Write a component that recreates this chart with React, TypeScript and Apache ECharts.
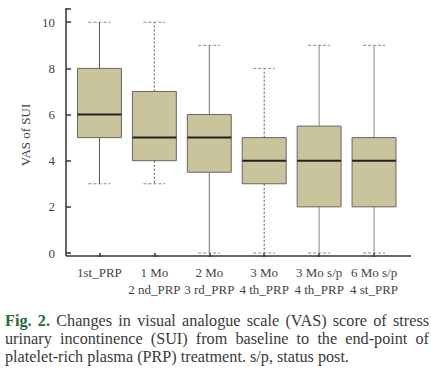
import React, { useEffect, useRef } from "react";
import * as echarts from "echarts";

const categories = [
  "1st_PRP",
  "1 Mo\n2 nd_PRP",
  "2 Mo\n3 rd_PRP",
  "3 Mo\n4 th_PRP",
  "3 Mo s/p\n4 th_PRP",
  "6 Mo s/p\n4 st_PRP",
];
const mins = [3, 3, 0, 0, 0, 0];
const q1s = [5, 4, 3.5, 3, 2, 2];
const medians = [6, 5, 5, 4, 4, 4];
const q3s = [8, 7, 6, 5, 5.5, 5];
const maxs = [10, 10, 9, 8, 9, 9];
const yTicks = [0, 2, 4, 6, 8, 10];

const captionLabel = "Fig. 2.";
const captionLines = [
  "Changes in visual analogue scale (VAS) score of stress",
  "urinary incontinence (SUI) from baseline to the end-point of",
  "platelet-rich plasma (PRP) treatment. s/p, status post.",
];

// whisker line styles per box (style only)
const whiskerStyles = [
  { stroke: "#555", lineDash: null as any },
  { stroke: "#555", lineDash: [2, 2] },
  { stroke: "#777", lineDash: null as any },
  { stroke: "#555", lineDash: [2, 2] },
  { stroke: "#888", lineDash: null as any },
  { stroke: "#888", lineDash: null as any },
];

const SERIF = "Liberation Serif";
const CAP_SIZE = 16.2;

function buildCaption(): any[] {
  const canvas = document.createElement("canvas");
  const ctx = canvas.getContext("2d")!;
  const out: any[] = [];
  const left = 5;
  const right = 429;
  const tops = [313, 331, 349];
  captionLines.forEach((line, li) => {
    const words: { t: string; b: boolean }[] = [];
    if (li === 0) captionLabel.split(" ").forEach((t) => words.push({ t, b: true }));
    line.split(" ").forEach((t) => words.push({ t, b: false }));
    const widths = words.map((w) => {
      ctx.font = `${w.b ? "bold " : ""}${CAP_SIZE}px "${SERIF}"`;
      return ctx.measureText(w.t).width;
    });
    ctx.font = `${CAP_SIZE}px "${SERIF}"`;
    const spaceW = ctx.measureText(" ").width;
    const total = widths.reduce((a, b) => a + b, 0);
    const justify = li < captionLines.length - 1;
    const gap = justify ? (right - left - total) / (words.length - 1) : spaceW;
    let x = left;
    words.forEach((w, wi) => {
      out.push({
        type: "text",
        x,
        y: tops[li],
        silent: true,
        style: {
          text: w.t,
          fontFamily: SERIF,
          fontSize: CAP_SIZE,
          fontWeight: w.b ? "bold" : "normal",
          fill: w.b ? "#1f6b3a" : "#3a3a3a",
        },
      });
      x += widths[wi] + gap;
    });
  });
  return out;
}

export default function App() {
  const ref = useRef<HTMLDivElement>(null);
  useEffect(() => {
    const chart = echarts.init(ref.current!, null, { renderer: "svg" });
    const data = categories.map((_, i) => [i, mins[i], q1s[i], medians[i], q3s[i], maxs[i]]);
    chart.setOption({
      animation: false,
      grid: { left: 72, right: 29.5, top: 8.4, bottom: 132, containLabel: false },
      xAxis: {
        type: "category",
        data: categories,
        offset: 3,
        axisLine: { show: false },
        axisTick: { show: true, alignWithLabel: true, length: 4, lineStyle: { color: "#333", width: 1.5 } },
        axisLabel: {
          interval: 0,
          margin: 8,
          fontFamily: SERIF,
          fontSize: 13,
          color: "#444",
          lineHeight: 17,
        },
        splitLine: { show: false },
      },
      yAxis: {
        type: "value",
        min: 0,
        max: 10.6,
        interval: 2,
        offset: 6,
        axisLine: { show: false },
        axisTick: { show: true, inside: true, length: 5, lineStyle: { color: "#333", width: 1.5 } },
        axisLabel: {
          fontFamily: SERIF,
          fontSize: 13,
          color: "#444",
          margin: 11,
          formatter: (v: number) => (yTicks.includes(v) ? String(v) : ""),
        },
        splitLine: { show: false },
      },
      series: [
        {
          type: "custom",
          data,
          encode: { x: 0, y: [1, 2, 3, 4, 5] },
          renderItem: (params: any, api: any) => {
            const i = api.value(0);
            const pMin = api.coord([i, api.value(1)]);
            const pQ1 = api.coord([i, api.value(2)]);
            const pMed = api.coord([i, api.value(3)]);
            const pQ3 = api.coord([i, api.value(4)]);
            const pMax = api.coord([i, api.value(5)]);
            const band = api.size([1, 0])[0];
            const bw = band * 0.8;
            const cw = bw * 0.5;
            const cx = pMed[0];
            const ws = whiskerStyles[i];
            const capStyle = { stroke: "#888", lineWidth: 1, lineDash: [3, 2] };
            return {
              type: "group",
              children: [
                {
                  type: "line",
                  shape: { x1: cx, y1: pQ3[1], x2: cx, y2: pMax[1] },
                  style: { stroke: ws.stroke, lineWidth: 1, lineDash: ws.lineDash },
                },
                {
                  type: "line",
                  shape: { x1: cx, y1: pQ1[1], x2: cx, y2: pMin[1] },
                  style: { stroke: ws.stroke, lineWidth: 1, lineDash: ws.lineDash },
                },
                {
                  type: "line",
                  shape: { x1: cx - cw / 2, y1: pMax[1], x2: cx + cw / 2, y2: pMax[1] },
                  style: capStyle,
                },
                {
                  type: "line",
                  shape: { x1: cx - cw / 2, y1: pMin[1], x2: cx + cw / 2, y2: pMin[1] },
                  style: capStyle,
                },
                {
                  type: "rect",
                  shape: { x: cx - bw / 2, y: pQ3[1], width: bw, height: pQ1[1] - pQ3[1] },
                  style: { fill: "#c9c49c", stroke: "#666", lineWidth: 1 },
                },
                {
                  type: "line",
                  shape: { x1: cx - bw / 2, y1: pMed[1], x2: cx + bw / 2, y2: pMed[1] },
                  style: { stroke: "#222", lineWidth: 2 },
                },
              ],
            };
          },
        },
      ],
      graphic: [
        {
          type: "line",
          shape: { x1: 66, y1: 8, x2: 66, y2: 256 },
          style: { stroke: "#333", lineWidth: 1.5 },
          silent: true,
        },
        {
          type: "line",
          shape: { x1: 66, y1: 256, x2: 411, y2: 256 },
          style: { stroke: "#333", lineWidth: 1.5 },
          silent: true,
        },
        {
          type: "text",
          x: 25,
          y: 135,
          rotation: Math.PI / 2,
          silent: true,
          style: {
            text: "VAS of SUI",
            fontFamily: SERIF,
            fontSize: 13,
            fill: "#444",
            align: "center",
            verticalAlign: "middle",
          },
        },
        ...buildCaption(),
      ],
    });
    return () => chart.dispose();
  }, []);
  return (
    <div
      ref={ref}
      style={{ position: "absolute", left: 0, top: 0, width: 431, height: 385, background: "#fff" }}
    />
  );
}
